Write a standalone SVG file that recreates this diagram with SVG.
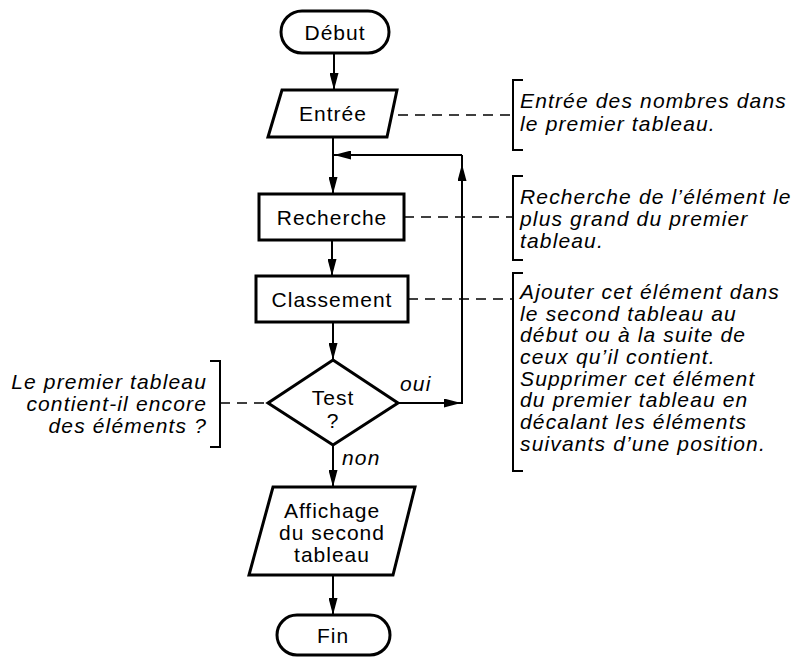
<svg xmlns="http://www.w3.org/2000/svg" width="796" height="658" viewBox="0 0 796 658">
<style>
.node{fill:#fff;stroke:#000;stroke-width:3;stroke-linejoin:miter}
.lbl{font-family:"Liberation Sans",Arial,sans-serif;font-size:21px;letter-spacing:1px;text-anchor:middle;fill:#000}
.ann{font-family:"Liberation Sans",Arial,sans-serif;font-size:21px;font-style:italic;letter-spacing:1.15px;fill:#000}
.ln{fill:none;stroke:#000;stroke-width:2}
.dash{fill:none;stroke:#000;stroke-width:1.6;stroke-dasharray:10,7}
.br{fill:none;stroke:#000;stroke-width:2}
</style>
<defs>
<marker id="ah" viewBox="0 0 17 9" refX="17" refY="4.5" markerWidth="17" markerHeight="9" markerUnits="userSpaceOnUse" orient="auto">
<path d="M0,0 L17,4.5 L0,9 Z" fill="#000"/>
</marker>
</defs>
<rect width="796" height="658" fill="#fff"/>
<g id="connectors">
<line class="ln" x1="334" y1="54" x2="334" y2="90" marker-end="url(#ah)"/>
<line class="ln" x1="333" y1="137" x2="333" y2="194" marker-end="url(#ah)"/>
<line class="ln" x1="462" y1="155" x2="333" y2="155"/>
<line class="ln" x1="355" y1="155" x2="334" y2="155" marker-end="url(#ah)"/>
<line class="ln" x1="332" y1="240" x2="332" y2="276" marker-end="url(#ah)"/>
<line class="ln" x1="333" y1="322" x2="333" y2="360" marker-end="url(#ah)"/>
<polyline class="ln" points="398,403 462,403 462,155"/>
<line class="ln" x1="440" y1="403" x2="461" y2="403" marker-end="url(#ah)"/>
<line class="ln" x1="462" y1="185" x2="462" y2="164" marker-end="url(#ah)"/>
<line class="ln" x1="333" y1="445" x2="333" y2="487" marker-end="url(#ah)"/>
<line class="ln" x1="333" y1="575" x2="333" y2="615" marker-end="url(#ah)"/>
<text class="ann" x="400" y="391">oui</text>
<text class="ann" x="342" y="465">non</text>
</g>
<g id="debut">
<rect class="node" x="281" y="11" width="108" height="42" rx="21"/>
<text class="lbl" x="335" y="40">Début</text>
</g>
<g id="entree">
<polygon class="node" points="282,90 397,90 387,137 268,137"/>
<text class="lbl" x="333" y="121">Entrée</text>
</g>
<g id="recherche">
<rect class="node" x="259" y="194" width="145" height="46"/>
<text class="lbl" x="332" y="225">Recherche</text>
</g>
<g id="classement">
<rect class="node" x="256" y="276" width="152" height="46"/>
<text class="lbl" x="332" y="307">Classement</text>
</g>
<g id="test">
<polygon class="node" points="333,360 398,403 333,445 268,403"/>
<text class="lbl" x="333" y="405">Test</text>
<text class="lbl" x="333" y="428">?</text>
</g>
<g id="affichage">
<polygon class="node" points="273,487 415,487 393,575 249,575"/>
<text class="lbl" x="332" y="518">Affichage</text>
<text class="lbl" x="332" y="540">du second</text>
<text class="lbl" x="332" y="562">tableau</text>
</g>
<g id="fin">
<rect class="node" x="277" y="615" width="113" height="40" rx="20"/>
<text class="lbl" x="333" y="643">Fin</text>
</g>
<g id="note-entree">
<line class="dash" x1="398" y1="115" x2="513" y2="115"/>
<polyline class="br" points="523,80 513,80 513,150 523,150"/>
<text class="ann" x="520" y="108">Entrée des nombres dans</text>
<text class="ann" x="520" y="131">le premier tableau.</text>
</g>
<g id="note-recherche">
<line class="dash" x1="404" y1="217" x2="513" y2="217"/>
<polyline class="br" points="523,176 513,176 513,260 523,260"/>
<text class="ann" x="520" y="204">Recherche de l’élément le</text>
<text class="ann" x="520" y="226">plus grand du premier</text>
<text class="ann" x="520" y="248">tableau.</text>
</g>
<g id="note-classement">
<line class="dash" x1="408" y1="299" x2="513" y2="299"/>
<polyline class="br" points="523,273 513,273 513,471 523,471"/>
<text class="ann" x="520" y="299">Ajouter cet élément dans</text>
<text class="ann" x="520" y="321">le second tableau au</text>
<text class="ann" x="520" y="342">début ou à la suite de</text>
<text class="ann" x="520" y="364">ceux qu’il contient.</text>
<text class="ann" x="520" y="386">Supprimer cet élément</text>
<text class="ann" x="520" y="407">du premier tableau en</text>
<text class="ann" x="520" y="429">décalant les éléments</text>
<text class="ann" x="520" y="451">suivants d’une position.</text>
</g>
<g id="note-test">
<line class="dash" x1="220" y1="403" x2="268" y2="403"/>
<polyline class="br" points="210,361 220,361 220,447 210,447"/>
<text class="ann" x="207" y="389" text-anchor="end">Le premier tableau</text>
<text class="ann" x="207" y="411" text-anchor="end">contient-il encore</text>
<text class="ann" x="207" y="433" text-anchor="end">des éléments ?</text>
</g>
</svg>
